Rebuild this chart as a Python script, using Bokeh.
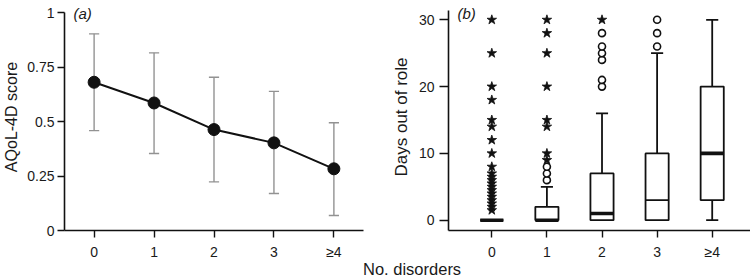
import math
from bokeh.plotting import figure
from bokeh.models import Range1d, FixedTicker, Label, Div
from bokeh.layouts import row, column
from bokeh.embed import file_html
from bokeh.resources import INLINE

# ---------------- data ----------------
categories = ["0", "1", "2", "3", "≥4"]

# panel (a): AQoL-4D score, mean with error bars
aqol_mean = [0.68, 0.585, 0.463, 0.402, 0.283]
aqol_lower = [0.458, 0.353, 0.223, 0.170, 0.069]
aqol_upper = [0.902, 0.815, 0.703, 0.638, 0.494]

# panel (b): days out of role, box plot statistics
days_q1 = [0, 0, 0, 0, 3]
days_median = [0, 0, 1, 3, 10]
days_q3 = [0, 2, 7, 10, 20]
days_whisker_low = [0, 0, 0, 0, 0]
days_whisker_high = [0, 5, 16, 25, 30]
median_bold = [True, True, True, False, True]

# outliers: circles = outliers, stars = extreme values
outlier_circle_cat = [1, 1, 1, 2, 2, 2, 2, 2, 2, 3, 3, 3]
outlier_circle_val = [6, 7, 8, 20, 21, 24, 25, 26, 28, 26, 28, 30]
outlier_star_cat = [0, 0, 0, 0, 0, 0, 0, 0, 0, 0, 0, 0, 0, 0, 0, 0, 0, 0, 0, 0, 0,
                    1, 1, 1, 1, 1, 1, 1, 1,
                    2]
outlier_star_val = [1.5, 2, 2.5, 3, 3.5, 4, 4.5, 5, 5.5, 6, 6.5, 7, 8, 10, 12, 14, 15, 18, 20, 25, 30,
                    9, 10, 14, 15, 20, 25, 28, 30,
                    30]

# ---------------- styling ----------------
FONT = "Liberation Sans"
TXT = "#1a1a1a"
xs = list(range(len(categories)))
FIG_H = 262


def style_axes(p):
    for ax in (p.xaxis[0], p.yaxis[0]):
        ax.axis_line_width = 1.6
        ax.axis_line_color = "#111111"
        ax.major_tick_line_width = 1.4
        ax.major_tick_line_color = "#111111"
        ax.major_tick_in = 0
        ax.minor_tick_line_color = None
        ax.major_label_text_font = FONT
        ax.major_label_text_font_size = "14px"
        ax.major_label_text_color = TXT
        ax.axis_label_text_font = FONT
        ax.axis_label_text_font_style = "normal"
        ax.axis_label_text_color = TXT
    p.xaxis[0].major_tick_out = 7
    p.xaxis[0].major_label_standoff = 6
    p.xgrid.visible = False
    p.ygrid.visible = False
    p.outline_line_color = None
    p.background_fill_color = "white"
    p.border_fill_color = "white"


# ---------------- panel (a) ----------------
a_ymax = 1.0
p1 = figure(width=375, height=FIG_H, output_backend="svg", toolbar_location=None,
            x_range=Range1d(-0.494, 4.494), y_range=Range1d(0, 1.0413),
            min_border_left=60, min_border_right=12, min_border_top=3, min_border_bottom=32)
style_axes(p1)
p1.xaxis[0].ticker = FixedTicker(ticks=xs)
p1.xaxis[0].major_label_overrides = {i: c for i, c in zip(xs, categories)}
yt = [0, 0.25, 0.5, 0.75, 1]
p1.yaxis[0].ticker = FixedTicker(ticks=yt)
p1.yaxis[0].major_label_overrides = {0: "0", 0.25: "0.25", 0.5: "0.5", 0.75: "0.75", 1: "1"}
p1.yaxis[0].bounds = (0, a_ymax)
p1.yaxis[0].major_tick_out = 7
p1.yaxis[0].major_label_standoff = 3
p1.yaxis[0].axis_label = "AQoL-4D score"
p1.yaxis[0].axis_label_text_font_size = "16px"
p1.yaxis[0].axis_label_standoff = 4

cap_a = 0.085
err_col = "#929292"
p1.segment(x0=xs, x1=xs, y0=aqol_lower, y1=aqol_upper, line_color=err_col, line_width=1.4)
p1.segment(x0=[x - cap_a for x in xs], x1=[x + cap_a for x in xs], y0=aqol_lower, y1=aqol_lower,
           line_color=err_col, line_width=1.4)
p1.segment(x0=[x - cap_a for x in xs], x1=[x + cap_a for x in xs], y0=aqol_upper, y1=aqol_upper,
           line_color=err_col, line_width=1.4)
p1.line(xs, aqol_mean, line_color="#111111", line_width=2)
p1.scatter(xs, aqol_mean, marker="circle", size=12, fill_color="#111111", line_color="#111111")

p1.add_layout(Label(x=9, y=226, x_units="screen", y_units="screen", text="(a)",
                    text_font=FONT, text_font_size="15px", text_font_style="italic",
                    text_color=TXT, text_baseline="top", text_align="left"))

# ---------------- panel (b) ----------------
b_ystart = -1.54
p2 = figure(width=375, height=FIG_H, output_backend="svg", toolbar_location=None,
            x_range=Range1d(-0.786, 4.695), y_range=Range1d(b_ystart, 32.44),
            min_border_left=73, min_border_right=0, min_border_top=3, min_border_bottom=32)
style_axes(p2)
p2.xaxis[0].ticker = FixedTicker(ticks=xs)
p2.xaxis[0].major_label_overrides = {i: c for i, c in zip(xs, categories)}
p2.yaxis[0].ticker = FixedTicker(ticks=[0, 10, 20, 30])
p2.yaxis[0].bounds = (b_ystart, 31.4)
p2.yaxis[0].major_tick_out = 9
p2.yaxis[0].major_label_standoff = 5
p2.yaxis[0].axis_label = "Days out of role"
p2.yaxis[0].axis_label_text_font_size = "17px"
p2.yaxis[0].axis_label_standoff = 5

bw = 0.21   # half box width
cw = 0.11   # half cap width
lw = 1.8
for i in xs:
    if days_whisker_high[i] > days_q3[i]:
        p2.segment(x0=[i], x1=[i], y0=[days_q3[i]], y1=[days_whisker_high[i]], line_color="#111111", line_width=lw)
        p2.segment(x0=[i - cw], x1=[i + cw], y0=[days_whisker_high[i]], y1=[days_whisker_high[i]],
                   line_color="#111111", line_width=lw)
    if days_whisker_low[i] < days_q1[i]:
        p2.segment(x0=[i], x1=[i], y0=[days_whisker_low[i]], y1=[days_q1[i]], line_color="#111111", line_width=lw)
        p2.segment(x0=[i - cw], x1=[i + cw], y0=[days_whisker_low[i]], y1=[days_whisker_low[i]],
                   line_color="#111111", line_width=lw)
p2.quad(left=[i - bw for i in xs], right=[i + bw for i in xs], bottom=days_q1, top=days_q3,
        fill_color="white", line_color="#111111", line_width=lw)
for i in xs:
    p2.segment(x0=[i - bw], x1=[i + bw], y0=[days_median[i]], y1=[days_median[i]],
               line_color="#111111", line_width=3.6 if median_bold[i] else lw)
p2.scatter(outlier_circle_cat, outlier_circle_val, marker="circle", size=7,
           fill_color="white", line_color="#111111", line_width=1.6)
p2.scatter(outlier_star_cat, outlier_star_val, marker="star", size=10,
           fill_color="#111111", line_color="#111111", line_width=0.8)

p2.add_layout(Label(x=9, y=226, x_units="screen", y_units="screen", text="(b)",
                    text_font=FONT, text_font_size="15px", text_font_style="italic",
                    text_color=TXT, text_baseline="top", text_align="left"))

xlabel = Div(text='<div style="position:relative; top:-5px; margin-left:358px; '
                  'font-family:\'Liberation Sans\'; font-size:16.5px; '
                  'line-height:15px; color:#1a1a1a; white-space:nowrap;">No. disorders</div>',
             width=750, height=15)

layout = column(row(p1, p2), xlabel)
open("out.html", "w").write(file_html(layout, INLINE))
